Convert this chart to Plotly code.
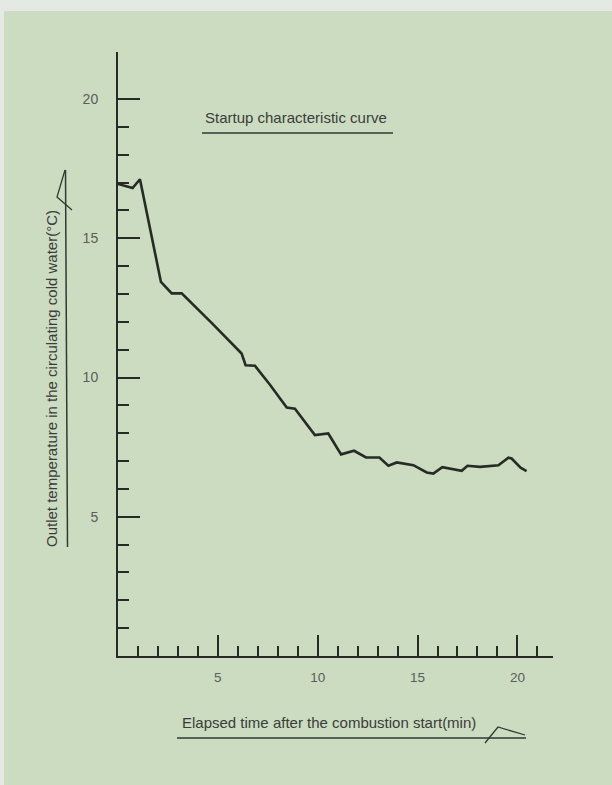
import plotly.graph_objects as go

# Data
elapsed_min = [0.0, 0.73, 1.1, 2.15, 2.69, 3.19, 4.7, 6.19, 6.39, 6.86, 7.6, 8.45, 8.86,
               9.86, 10.53, 11.17, 11.82, 12.42, 13.09, 13.54, 13.96, 14.79, 15.46, 15.79,
               16.24, 17.21, 17.5, 18.13, 19.05, 19.55, 19.71, 20.16, 20.46]
outlet_temp = [16.95, 16.8, 17.12, 13.43, 13.02, 13.02, 11.95, 10.86, 10.44, 10.42, 9.75, 8.92, 8.88,
               7.93, 7.99, 7.24, 7.37, 7.13, 7.13, 6.83, 6.95, 6.85, 6.59, 6.55,
               6.78, 6.65, 6.83, 6.79, 6.85, 7.12, 7.09, 6.76, 6.64]

x_major_ticks = [5, 10, 15, 20]
x_minor_ticks = list(range(1, 22))
y_major_ticks = [5, 10, 15, 20]
y_minor_ticks = list(range(1, 20))

title_text = "Startup characteristic curve"
x_title = "Elapsed time after the combustion start(min)"
y_title = "Outlet temperature in the circulating cold water(\u00b0C)"

W, H = 612, 785
BG = "#cbdcc1"
INK = "#262b26"
TXT = "#3a3d3a"
TICKTXT = "#5a5e5a"
FONT = "Liberation Sans, Arial, sans-serif"

def px(x):
    return x / W

def py(y):
    return 1 - y / H

# plot area in pixels
X0, X1 = 118, 553
Y0, Y1 = 656, 52
XSCALE = 19.97
YSCALE = 27.85

fig = go.Figure()
fig.add_trace(go.Scatter(
    x=elapsed_min, y=outlet_temp, mode="lines",
    line=dict(color=INK, width=2.6), hoverinfo="skip", showlegend=False,
))

fig.update_layout(
    width=W, height=H, autosize=False,
    margin=dict(l=0, r=0, t=0, b=0),
    paper_bgcolor=BG, plot_bgcolor=BG,
    font=dict(family=FONT, color=TXT, size=13),
    xaxis=dict(
        domain=[px(X0), px(X1)],
        range=[0, (X1 - X0) / XSCALE],
        showline=True, linecolor=INK, linewidth=2,
        showgrid=False, zeroline=False,
        tickmode="array", tickvals=x_major_ticks, ticktext=[str(v) for v in x_major_ticks],
        ticks="inside", ticklen=21, tickwidth=2, tickcolor=INK,
        tickfont=dict(size=13.5, color=TICKTXT, family=FONT),
        ticklabelstandoff=8,
        minor=dict(tickmode="array", tickvals=x_minor_ticks, ticks="inside",
                   ticklen=10, tickwidth=2, tickcolor=INK, showgrid=False),
    ),
    yaxis=dict(
        domain=[py(Y0), py(Y1)],
        range=[0, (Y0 - Y1) / YSCALE],
        showline=True, linecolor=INK, linewidth=2,
        showgrid=False, zeroline=False,
        tickmode="array", tickvals=y_major_ticks, ticktext=[str(v) for v in y_major_ticks],
        ticks="inside", ticklen=22, tickwidth=2, tickcolor=INK,
        tickfont=dict(size=14, color=TICKTXT, family=FONT),
        ticklabelstandoff=15,
        minor=dict(tickmode="array", tickvals=y_minor_ticks, ticks="inside",
                   ticklen=11, tickwidth=2, tickcolor=INK, showgrid=False),
    ),
)

shapes = []
# light scan edges
shapes.append(dict(type="rect", xref="paper", yref="paper", x0=0, x1=1, y0=py(11), y1=1,
                   fillcolor="#e4e9e3", line=dict(width=0), layer="below"))
shapes.append(dict(type="rect", xref="paper", yref="paper", x0=0, x1=px(4), y0=0, y1=1,
                   fillcolor="#e4e9e3", line=dict(width=0), layer="below"))
# title underline
shapes.append(dict(type="line", xref="paper", yref="paper", x0=px(202), x1=px(393),
                   y0=py(133), y1=py(133), line=dict(color="#2f3a33", width=1.5)))
# x title underline with check mark
shapes.append(dict(type="line", xref="paper", yref="paper", x0=px(177), x1=px(526),
                   y0=py(738), y1=py(738), line=dict(color="#2f3a33", width=1.5)))
shapes.append(dict(type="path", xref="paper", yref="paper",
                   path=f"M {px(485)} {py(743)} L {px(498)} {py(727)} L {px(525)} {py(735)}",
                   line=dict(color="#2f3a33", width=1.3)))
# y title line with check mark
shapes.append(dict(type="line", xref="paper", yref="paper", x0=px(65.5), x1=px(67.5),
                   y0=py(170), y1=py(547), line=dict(color="#2f3a33", width=1.5)))
shapes.append(dict(type="path", xref="paper", yref="paper",
                   path=f"M {px(65)} {py(170)} L {px(57)} {py(197)} L {px(72)} {py(210)}",
                   line=dict(color="#2f3a33", width=1.3)))
fig.update_layout(shapes=shapes)

annotations = [
    dict(text=title_text, xref="paper", yref="paper", x=px(296), y=py(118),
         xanchor="center", yanchor="middle", showarrow=False,
         font=dict(size=15, color=TXT, family=FONT)),
    dict(text=x_title, xref="paper", yref="paper", x=px(329), y=py(722),
         xanchor="center", yanchor="middle", showarrow=False,
         font=dict(size=15, color=TXT, family=FONT)),
    dict(text=y_title, xref="paper", yref="paper", x=px(51), y=py(379),
         xanchor="center", yanchor="middle", showarrow=False, textangle=-90,
         font=dict(size=15, color=TXT, family=FONT)),
]
fig.update_layout(annotations=annotations)

fig.write_html(
    "out.html",
    config={"displayModeBar": False},
    post_script="document.body.style.margin='0';document.body.style.overflow='hidden';"
                "document.documentElement.style.overflow='hidden';",
)
